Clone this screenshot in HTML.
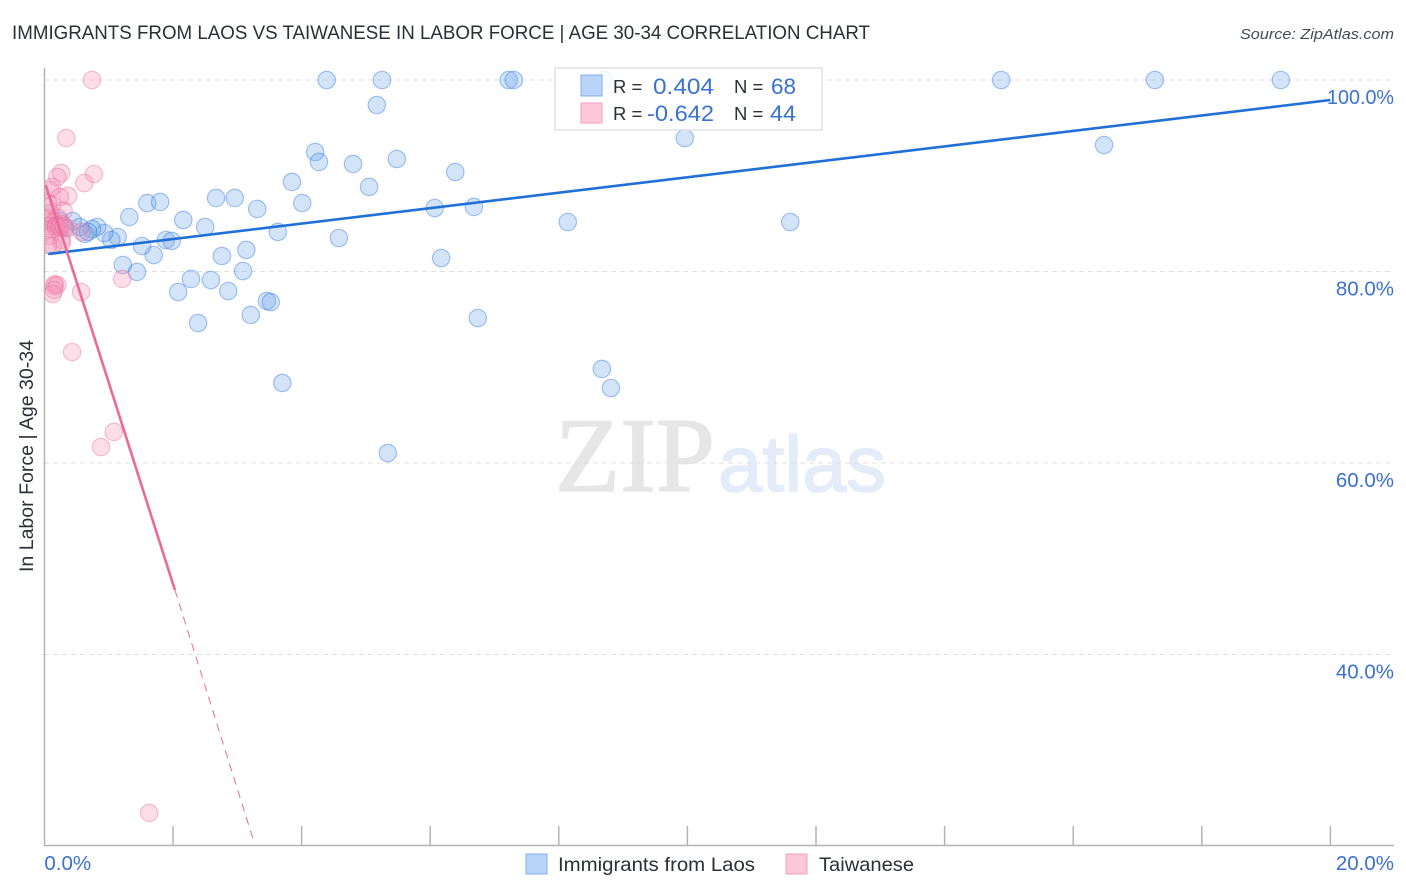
<!DOCTYPE html>
<html lang="en">
<head>
<meta charset="utf-8">
<title>Immigrants from Laos vs Taiwanese in Labor Force | Age 30-34 Correlation Chart</title>
<style>
html,body{margin:0;padding:0;background:#fff;width:1406px;height:892px;overflow:hidden}
svg{display:block;font-family:"Liberation Sans",sans-serif}
</style>
</head>
<body>
<svg id="chart" xmlns="http://www.w3.org/2000/svg" width="1406" height="892" viewBox="0 0 1406 892">
  <defs>
    <clipPath id="plot-clip"><rect x="45" y="60" width="1350" height="785"/></clipPath>
  </defs>
  <text x="12" y="39" font-size="19.5" fill="#2b2f36" textLength="858" lengthAdjust="spacingAndGlyphs">IMMIGRANTS FROM LAOS VS TAIWANESE IN LABOR FORCE | AGE 30-34 CORRELATION CHART</text>
  <text x="1394" y="39" font-size="15" font-style="italic" fill="#444b55" text-anchor="end" textLength="154" lengthAdjust="spacingAndGlyphs">Source: ZipAtlas.com</text>
  <g>
    <text x="555" y="491" font-family="'Liberation Serif',serif" font-size="106" fill="#e6e6e6" stroke="#e6e6e6" stroke-width="1.6" textLength="160" lengthAdjust="spacingAndGlyphs">ZIP</text>
    <text x="718" y="491" font-size="79" fill="#e3ecf8" stroke="#e3ecf8" stroke-width="1.6" textLength="168" lengthAdjust="spacingAndGlyphs">atlas</text>
  </g>
  <g id="grid"></g>
  <g id="axes"></g>
  <g id="points" clip-path="url(#plot-clip)"></g>
  <g id="trends"></g>
  <g>
    <rect x="555" y="68" width="267" height="62" fill="#fff" fill-opacity="0.85" stroke="#e2e2e2" stroke-width="1.5"/>
    <rect x="581" y="75" width="21" height="21" fill="#b8d4f8" stroke="#7fb0ea" stroke-width="1"/>
    <rect x="581" y="103" width="21" height="20" fill="#fcc8da" stroke="#f0a0bc" stroke-width="1"/>
    <text x="613" y="93" font-size="18.5" fill="#2b2f36">R =</text>
    <text x="714" y="94" font-size="22" fill="#3a72d0" text-anchor="end" textLength="61" lengthAdjust="spacingAndGlyphs">0.404</text>
    <text x="734" y="93" font-size="18.5" fill="#2b2f36">N =</text>
    <text x="796" y="94" font-size="22" fill="#3a72d0" text-anchor="end" textLength="25" lengthAdjust="spacingAndGlyphs">68</text>
    <text x="613" y="120" font-size="18.5" fill="#2b2f36">R =</text>
    <text x="714" y="121" font-size="22" fill="#3a72d0" text-anchor="end" textLength="67" lengthAdjust="spacingAndGlyphs">-0.642</text>
    <text x="734" y="120" font-size="18.5" fill="#2b2f36">N =</text>
    <text x="796" y="121" font-size="22" fill="#3a72d0" text-anchor="end" textLength="26" lengthAdjust="spacingAndGlyphs">44</text>
  </g>
  <text transform="translate(33,456) rotate(-90)" font-size="19" fill="#2b2f36" text-anchor="middle" textLength="232" lengthAdjust="spacingAndGlyphs">In Labor Force | Age 30-34</text>
  <g>
    <rect x="526" y="854" width="21" height="20" fill="#b8d4f8" stroke="#7fb0ea" stroke-width="1"/>
    <text x="558" y="871" font-size="19.5" fill="#2b2f36" textLength="197" lengthAdjust="spacingAndGlyphs">Immigrants from Laos</text>
    <rect x="786" y="854" width="21" height="20" fill="#fcc8da" stroke="#f0a0bc" stroke-width="1"/>
    <text x="819" y="871" font-size="19.5" fill="#2b2f36" textLength="95" lengthAdjust="spacingAndGlyphs">Taiwanese</text>
  </g>
</svg>
<script>
const laosX = [4.39,5.25,7.22,7.30,8.70,14.88,17.27,19.23,5.17,9.96,16.48,4.21,4.27,4.80,5.48,6.39,5.05,3.85,2.67,2.96,1.60,1.80,4.01,3.31,1.32,2.16,2.50,3.63,4.58,6.07,6.68,8.14,11.60,3.14,6.17,2.76,1.70,1.52,1.89,1.98,1.14,1.04,0.93,0.82,0.74,0.63,0.55,0.44,0.24,0.18,1.22,1.44,3.09,2.08,2.28,2.59,2.86,3.21,3.46,3.52,2.39,6.74,3.70,8.67,8.81,5.34,0.32,0.68];
const laosY = [100,100,100,100,100,100,100,100,97.39,93.94,93.21,92.48,91.44,91.23,91.75,90.39,88.83,89.35,87.68,87.68,87.15,87.26,87.15,86.53,85.69,85.38,84.65,84.13,83.50,86.63,86.74,85.17,85.17,82.25,81.41,81.62,81.72,82.66,83.29,83.19,83.60,83.29,84.02,84.65,84.44,83.92,84.65,85.27,85.27,84.86,80.68,79.95,80.05,77.86,79.22,79.11,77.96,75.46,76.92,76.81,74.62,75.14,68.36,69.82,67.83,61.04,84.54,84.13];
const taiwaneseX = [0.74,0.34,0.77,0.62,0.26,0.20,0.12,0.09,0.37,0.24,0.06,0.12,0.30,0.09,0.02,0.21,0.09,0.15,0.27,0.06,0.18,0.24,0.37,0.02,0.18,0.09,0.24,0.27,0.27,0.13,0.30,0.58,0.16,0.16,0.20,0.13,0.57,1.21,0.43,1.08,0.88,1.63,0.15,0.06];
const taiwaneseY = [100,93.94,90.18,89.24,90.29,89.87,88.83,88.51,87.89,87.78,87.15,86.95,86.32,86.11,85.59,85.59,85.17,85.17,84.96,84.75,84.75,84.54,84.54,84.33,84.54,83.71,84.75,83.29,82.98,82.66,84.75,84.13,78.69,78.49,78.59,77.65,77.86,79.22,71.59,63.24,61.67,23.45,78.07,82.77];
const laosTrendX = [0.06,20];
const laosTrendY = [81.83,97.91];
const taiwaneseSolidX = [0.02,2.03];
const taiwaneseSolidY = [89.03,46.74];
const taiwaneseDashX = [2.03,3.24];
const taiwaneseDashY = [46.74,20.84];
const yTicks = [100,80,60,40];
const yTickLabels = ['100.0%','80.0%','60.0%','40.0%'];
const xTicks = [2,4,6,8,10,12,14,16,18,20];
const xEdgeValues = [0,20];
const xEdgeLabels = ['0.0%','20.0%'];

const NS = 'http://www.w3.org/2000/svg';
const sx = v => 44.4 + v * 64.3;
const sy = v => 80 + (100 - v) * 9.575;
function mk(tag, attrs, parent, text) {
  const el = document.createElementNS(NS, tag);
  for (const k in attrs) el.setAttribute(k, attrs[k]);
  if (text !== undefined) el.textContent = text;
  parent.appendChild(el);
  return el;
}
const grid = document.getElementById('grid');
const axes = document.getElementById('axes');
const pts = document.getElementById('points');
const trends = document.getElementById('trends');

yTicks.forEach(function (t, i) {
  const line = mk('line', {x1: 44, x2: 1393, y1: sy(t), y2: sy(t), stroke: '#e0e0e0', 'stroke-width': 1, 'stroke-dasharray': '5 4'}, grid);
  
  
  const label = mk('text', {x: 1394, y: sy(t) + 24, 'font-size': 20.5, fill: '#3a72d0', 'text-anchor': 'end'}, axes, yTickLabels[i]);
  
  
  if (yTickLabels[i].length > 5) {
    label.setAttribute('textLength', '67');
    label.setAttribute('lengthAdjust', 'spacingAndGlyphs');
  }
});

const yAxis = mk('line', {x1: 44.5, x2: 44.5, y1: 68, y2: 846, stroke: '#b4b4b4', 'stroke-width': 1.5}, axes);


const xAxis = mk('line', {x1: 44, x2: 1394, y1: 845.5, y2: 845.5, stroke: '#b4b4b4', 'stroke-width': 1.5}, axes);



xTicks.forEach(function (t) {
  const tick = mk('line', {x1: sx(t), x2: sx(t), y1: 826, y2: 845, stroke: '#b4b4b4', 'stroke-width': 1.5}, axes);
  
  
});
xEdgeValues.forEach(function (t, i) {
  const label = mk('text', {x: i === 0 ? sx(t) : 1394, y: 870, 'font-size': 20.5, fill: '#3a72d0', 'text-anchor': i === 0 ? 'start' : 'end'}, axes, xEdgeLabels[i]);
  
  
});

laosX.forEach(function (x, i) {
  const c = mk('circle', {cx: sx(x), cy: sy(laosY[i]), r: 8.7, fill: '#6ea6ec', 'fill-opacity': 0.3, stroke: '#2f78d8', 'stroke-opacity': 0.42, 'stroke-width': 1.2}, pts);
  
  
});
taiwaneseX.forEach(function (x, i) {
  const c = mk('circle', {cx: sx(x), cy: sy(taiwaneseY[i]), r: 8.7, fill: '#f590b4', 'fill-opacity': 0.3, stroke: '#ea6f9c', 'stroke-opacity': 0.42, 'stroke-width': 1.2}, pts);
  
  
});

const t1 = mk('line', {x1: sx(laosTrendX[0]), y1: sy(laosTrendY[0]), x2: sx(laosTrendX[1]), y2: sy(laosTrendY[1]), stroke: '#2070d8', 'stroke-width': 2.6}, trends);


const t2 = mk('line', {x1: sx(taiwaneseSolidX[0]), y1: sy(taiwaneseSolidY[0]), x2: sx(taiwaneseSolidX[1]), y2: sy(taiwaneseSolidY[1]), stroke: '#ea6a9a', 'stroke-width': 2.6}, trends);


const t3 = mk('line', {x1: sx(taiwaneseDashX[0]), y1: sy(taiwaneseDashY[0]), x2: sx(taiwaneseDashX[1]), y2: sy(taiwaneseDashY[1]), stroke: '#ea6a9a', 'stroke-width': 1, 'stroke-dasharray': '8 6'}, trends);


</script>
</body>
</html>
